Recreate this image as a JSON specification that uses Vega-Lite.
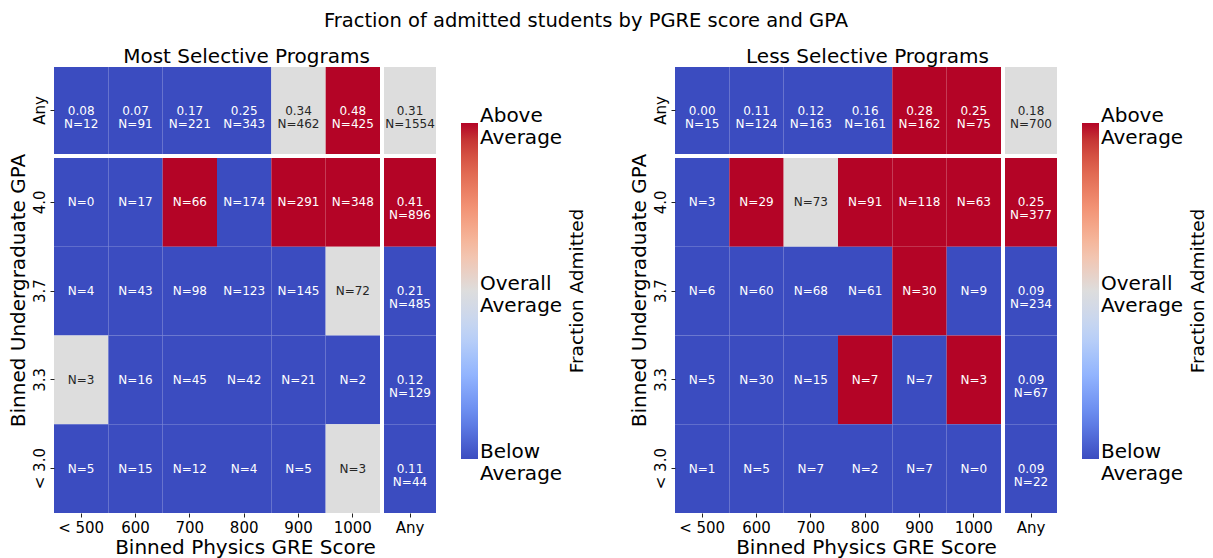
{
  "$schema": "https://vega.github.io/schema/vega-lite/v6.json",
  "padding": {"left": 7, "top": 10, "right": 5, "bottom": 2},
  "title": {"text": "Fraction of admitted students by PGRE score and GPA", "fontSize": 19.5, "fontWeight": "normal", "color": "#000", "anchor": "middle", "offset": 16, "dx": -22},
  "datasets": {
    "cells": [
      {"prog": "Most", "gre": "< 500", "gpa": "Any", "level": -1, "label": "0.08\nN=12"},
      {"prog": "Most", "gre": "600", "gpa": "Any", "level": -1, "label": "0.07\nN=91"},
      {"prog": "Most", "gre": "700", "gpa": "Any", "level": -1, "label": "0.17\nN=221"},
      {"prog": "Most", "gre": "800", "gpa": "Any", "level": -1, "label": "0.25\nN=343"},
      {"prog": "Most", "gre": "900", "gpa": "Any", "level": 0, "label": "0.34\nN=462"},
      {"prog": "Most", "gre": "1000", "gpa": "Any", "level": 1, "label": "0.48\nN=425"},
      {"prog": "Most", "gre": "Any", "gpa": "Any", "level": 0, "label": "0.31\nN=1554"},
      {"prog": "Most", "gre": "< 500", "gpa": "4.0", "level": -1, "label": "N=0"},
      {"prog": "Most", "gre": "600", "gpa": "4.0", "level": -1, "label": "N=17"},
      {"prog": "Most", "gre": "700", "gpa": "4.0", "level": 1, "label": "N=66"},
      {"prog": "Most", "gre": "800", "gpa": "4.0", "level": -1, "label": "N=174"},
      {"prog": "Most", "gre": "900", "gpa": "4.0", "level": 1, "label": "N=291"},
      {"prog": "Most", "gre": "1000", "gpa": "4.0", "level": 1, "label": "N=348"},
      {"prog": "Most", "gre": "Any", "gpa": "4.0", "level": 1, "label": "0.41\nN=896"},
      {"prog": "Most", "gre": "< 500", "gpa": "3.7", "level": -1, "label": "N=4"},
      {"prog": "Most", "gre": "600", "gpa": "3.7", "level": -1, "label": "N=43"},
      {"prog": "Most", "gre": "700", "gpa": "3.7", "level": -1, "label": "N=98"},
      {"prog": "Most", "gre": "800", "gpa": "3.7", "level": -1, "label": "N=123"},
      {"prog": "Most", "gre": "900", "gpa": "3.7", "level": -1, "label": "N=145"},
      {"prog": "Most", "gre": "1000", "gpa": "3.7", "level": 0, "label": "N=72"},
      {"prog": "Most", "gre": "Any", "gpa": "3.7", "level": -1, "label": "0.21\nN=485"},
      {"prog": "Most", "gre": "< 500", "gpa": "3.3", "level": 0, "label": "N=3"},
      {"prog": "Most", "gre": "600", "gpa": "3.3", "level": -1, "label": "N=16"},
      {"prog": "Most", "gre": "700", "gpa": "3.3", "level": -1, "label": "N=45"},
      {"prog": "Most", "gre": "800", "gpa": "3.3", "level": -1, "label": "N=42"},
      {"prog": "Most", "gre": "900", "gpa": "3.3", "level": -1, "label": "N=21"},
      {"prog": "Most", "gre": "1000", "gpa": "3.3", "level": -1, "label": "N=2"},
      {"prog": "Most", "gre": "Any", "gpa": "3.3", "level": -1, "label": "0.12\nN=129"},
      {"prog": "Most", "gre": "< 500", "gpa": "< 3.0", "level": -1, "label": "N=5"},
      {"prog": "Most", "gre": "600", "gpa": "< 3.0", "level": -1, "label": "N=15"},
      {"prog": "Most", "gre": "700", "gpa": "< 3.0", "level": -1, "label": "N=12"},
      {"prog": "Most", "gre": "800", "gpa": "< 3.0", "level": -1, "label": "N=4"},
      {"prog": "Most", "gre": "900", "gpa": "< 3.0", "level": -1, "label": "N=5"},
      {"prog": "Most", "gre": "1000", "gpa": "< 3.0", "level": 0, "label": "N=3"},
      {"prog": "Most", "gre": "Any", "gpa": "< 3.0", "level": -1, "label": "0.11\nN=44"},
      {"prog": "Less", "gre": "< 500", "gpa": "Any", "level": -1, "label": "0.00\nN=15"},
      {"prog": "Less", "gre": "600", "gpa": "Any", "level": -1, "label": "0.11\nN=124"},
      {"prog": "Less", "gre": "700", "gpa": "Any", "level": -1, "label": "0.12\nN=163"},
      {"prog": "Less", "gre": "800", "gpa": "Any", "level": -1, "label": "0.16\nN=161"},
      {"prog": "Less", "gre": "900", "gpa": "Any", "level": 1, "label": "0.28\nN=162"},
      {"prog": "Less", "gre": "1000", "gpa": "Any", "level": 1, "label": "0.25\nN=75"},
      {"prog": "Less", "gre": "Any", "gpa": "Any", "level": 0, "label": "0.18\nN=700"},
      {"prog": "Less", "gre": "< 500", "gpa": "4.0", "level": -1, "label": "N=3"},
      {"prog": "Less", "gre": "600", "gpa": "4.0", "level": 1, "label": "N=29"},
      {"prog": "Less", "gre": "700", "gpa": "4.0", "level": 0, "label": "N=73"},
      {"prog": "Less", "gre": "800", "gpa": "4.0", "level": 1, "label": "N=91"},
      {"prog": "Less", "gre": "900", "gpa": "4.0", "level": 1, "label": "N=118"},
      {"prog": "Less", "gre": "1000", "gpa": "4.0", "level": 1, "label": "N=63"},
      {"prog": "Less", "gre": "Any", "gpa": "4.0", "level": 1, "label": "0.25\nN=377"},
      {"prog": "Less", "gre": "< 500", "gpa": "3.7", "level": -1, "label": "N=6"},
      {"prog": "Less", "gre": "600", "gpa": "3.7", "level": -1, "label": "N=60"},
      {"prog": "Less", "gre": "700", "gpa": "3.7", "level": -1, "label": "N=68"},
      {"prog": "Less", "gre": "800", "gpa": "3.7", "level": -1, "label": "N=61"},
      {"prog": "Less", "gre": "900", "gpa": "3.7", "level": 1, "label": "N=30"},
      {"prog": "Less", "gre": "1000", "gpa": "3.7", "level": -1, "label": "N=9"},
      {"prog": "Less", "gre": "Any", "gpa": "3.7", "level": -1, "label": "0.09\nN=234"},
      {"prog": "Less", "gre": "< 500", "gpa": "3.3", "level": -1, "label": "N=5"},
      {"prog": "Less", "gre": "600", "gpa": "3.3", "level": -1, "label": "N=30"},
      {"prog": "Less", "gre": "700", "gpa": "3.3", "level": -1, "label": "N=15"},
      {"prog": "Less", "gre": "800", "gpa": "3.3", "level": 1, "label": "N=7"},
      {"prog": "Less", "gre": "900", "gpa": "3.3", "level": -1, "label": "N=7"},
      {"prog": "Less", "gre": "1000", "gpa": "3.3", "level": 1, "label": "N=3"},
      {"prog": "Less", "gre": "Any", "gpa": "3.3", "level": -1, "label": "0.09\nN=67"},
      {"prog": "Less", "gre": "< 500", "gpa": "< 3.0", "level": -1, "label": "N=1"},
      {"prog": "Less", "gre": "600", "gpa": "< 3.0", "level": -1, "label": "N=5"},
      {"prog": "Less", "gre": "700", "gpa": "< 3.0", "level": -1, "label": "N=7"},
      {"prog": "Less", "gre": "800", "gpa": "< 3.0", "level": -1, "label": "N=2"},
      {"prog": "Less", "gre": "900", "gpa": "< 3.0", "level": -1, "label": "N=7"},
      {"prog": "Less", "gre": "1000", "gpa": "< 3.0", "level": -1, "label": "N=0"},
      {"prog": "Less", "gre": "Any", "gpa": "< 3.0", "level": -1, "label": "0.09\nN=22"}
    ]
  },
  "data": {"name": "cells"},
  "config": {
    "font": "DejaVu Sans",
    "view": {"stroke": null},
    "scale": {"bandPaddingInner": 0, "bandPaddingOuter": 0},
    "axis": {"domain": false, "grid": false, "ticks": true, "tickSize": 4, "tickColor": "#222222", "tickWidth": 1, "labelFontSize": 15, "labelColor": "#000000", "labelPadding": 3, "titleFontSize": 20, "titleFontWeight": "normal", "titleColor": "#000000"},
    "axisX": {"labelAngle": 0, "titlePadding": 2},
    "axisY": {"labelAngle": -90, "titlePadding": 4},
    "legend": {"orient": "none", "legendX": 407, "legendY": 56, "padding": 0, "gradientLength": 336, "gradientThickness": 17, "gradientStrokeWidth": 0, "labelFontSize": 20, "labelColor": "#000000", "labelOverlap": false, "labelOffset": 6, "titleFontSize": 18.5, "titleFontWeight": "normal", "titleColor": "#000000", "titleOrient": "right", "titleAnchor": "middle", "titlePadding": 1},
    "title": {"fontWeight": "normal", "color": "#000000"},
    "text": {"lineBreak": "\n", "fontSize": 12, "lineHeight": 13}
  },
  "spacing": 41,
  "resolve": {"scale": {"color": "independent"}, "legend": {"color": "independent"}},
  "hconcat": [
    {
      "title": {"text": "Most Selective Programs", "fontSize": 20, "anchor": "middle", "offset": 0, "dx": -51},
      "columns": 2,
      "bounds": "flush",
      "spacing": {"row": 4, "column": 4},
      "concat": [
        {
          "width": 326, "height": 87,
          "transform": [{"filter": "datum.prog == 'Most' && datum.gpa == 'Any' && datum.gre != 'Any'"}],
          "encoding": {
            "x": {"field": "gre", "type": "nominal", "sort": ["< 500", "600", "700", "800", "900", "1000"], "axis": null},
            "y": {"field": "gpa", "type": "nominal", "axis": {"title": null}}
          },
          "layer": [
            {"mark": "rect", "encoding": {"color": {"field": "level", "type": "quantitative", "scale": {"domain": [-1, -0.75, -0.5, -0.25, 0, 0.25, 0.5, 0.75, 1], "range": ["#3b4cc0", "#6687ed", "#92b4fe", "#bfd3f6", "#dddddd", "#f6bfa6", "#f29274", "#dd5f4b", "#b40426"]}, "legend": {"title": "Fraction Admitted", "values": [1, 0, -1], "labelExpr": "datum.value > 0.5 ? ['Above', 'Average'] : (datum.value < -0.5 ? ['Below', 'Average'] : ['Overall', 'Average'])", "encode": {"labels": {"update": {"lineHeight": {"value": 22}, "baseline": {"value": "middle"}, "dy": {"value": -7.5}}}, "title": {"update": {"angle": {"value": 270}, "baseline": {"value": "top"}, "dy": {"value": 5}}}}}}}},
            {"mark": "text", "encoding": {"text": {"field": "label"}, "color": {"condition": {"test": "datum.level == 0", "value": "#262626"}, "value": "#ffffff"}}}
          ]
        },
        {
          "width": 52, "height": 87,
          "transform": [{"filter": "datum.prog == 'Most' && datum.gpa == 'Any' && datum.gre == 'Any'"}],
          "encoding": {
            "x": {"field": "gre", "type": "nominal", "axis": null},
            "y": {"field": "gpa", "type": "nominal", "axis": null}
          },
          "layer": [
            {"mark": "rect", "encoding": {"color": {"field": "level", "type": "quantitative", "scale": {"domain": [-1, -0.75, -0.5, -0.25, 0, 0.25, 0.5, 0.75, 1], "range": ["#3b4cc0", "#6687ed", "#92b4fe", "#bfd3f6", "#dddddd", "#f6bfa6", "#f29274", "#dd5f4b", "#b40426"]}, "legend": {"title": "Fraction Admitted", "values": [1, 0, -1], "labelExpr": "datum.value > 0.5 ? ['Above', 'Average'] : (datum.value < -0.5 ? ['Below', 'Average'] : ['Overall', 'Average'])", "encode": {"labels": {"update": {"lineHeight": {"value": 22}, "baseline": {"value": "middle"}, "dy": {"value": -7.5}}}, "title": {"update": {"angle": {"value": 270}, "baseline": {"value": "top"}, "dy": {"value": 5}}}}}}}},
            {"mark": "text", "encoding": {"text": {"field": "label"}, "color": {"condition": {"test": "datum.level == 0", "value": "#262626"}, "value": "#ffffff"}}}
          ]
        },
        {
          "width": 326, "height": 355,
          "transform": [{"filter": "datum.prog == 'Most' && datum.gpa != 'Any' && datum.gre != 'Any'"}],
          "encoding": {
            "x": {"field": "gre", "type": "nominal", "sort": ["< 500", "600", "700", "800", "900", "1000"], "axis": {"title": "Binned Physics GRE Score", "titleX": 191}},
            "y": {"field": "gpa", "type": "nominal", "sort": ["4.0", "3.7", "3.3", "< 3.0"], "axis": {"title": "Binned Undergraduate GPA", "titleY": 132}}
          },
          "layer": [
            {"mark": "rect", "encoding": {"color": {"field": "level", "type": "quantitative", "scale": {"domain": [-1, -0.75, -0.5, -0.25, 0, 0.25, 0.5, 0.75, 1], "range": ["#3b4cc0", "#6687ed", "#92b4fe", "#bfd3f6", "#dddddd", "#f6bfa6", "#f29274", "#dd5f4b", "#b40426"]}, "legend": {"title": "Fraction Admitted", "values": [1, 0, -1], "labelExpr": "datum.value > 0.5 ? ['Above', 'Average'] : (datum.value < -0.5 ? ['Below', 'Average'] : ['Overall', 'Average'])", "encode": {"labels": {"update": {"lineHeight": {"value": 22}, "baseline": {"value": "middle"}, "dy": {"value": -7.5}}}, "title": {"update": {"angle": {"value": 270}, "baseline": {"value": "top"}, "dy": {"value": 5}}}}}}}},
            {"mark": "text", "encoding": {"text": {"field": "label"}, "color": {"condition": {"test": "datum.level == 0", "value": "#262626"}, "value": "#ffffff"}}}
          ]
        },
        {
          "width": 52, "height": 355,
          "transform": [{"filter": "datum.prog == 'Most' && datum.gpa != 'Any' && datum.gre == 'Any'"}],
          "encoding": {
            "x": {"field": "gre", "type": "nominal", "axis": {"title": null}},
            "y": {"field": "gpa", "type": "nominal", "sort": ["4.0", "3.7", "3.3", "< 3.0"], "axis": null}
          },
          "layer": [
            {"mark": "rect", "encoding": {"color": {"field": "level", "type": "quantitative", "scale": {"domain": [-1, -0.75, -0.5, -0.25, 0, 0.25, 0.5, 0.75, 1], "range": ["#3b4cc0", "#6687ed", "#92b4fe", "#bfd3f6", "#dddddd", "#f6bfa6", "#f29274", "#dd5f4b", "#b40426"]}, "legend": {"title": "Fraction Admitted", "values": [1, 0, -1], "labelExpr": "datum.value > 0.5 ? ['Above', 'Average'] : (datum.value < -0.5 ? ['Below', 'Average'] : ['Overall', 'Average'])", "encode": {"labels": {"update": {"lineHeight": {"value": 22}, "baseline": {"value": "middle"}, "dy": {"value": -7.5}}}, "title": {"update": {"angle": {"value": 270}, "baseline": {"value": "top"}, "dy": {"value": 5}}}}}}}},
            {"mark": "text", "encoding": {"text": {"field": "label"}, "color": {"condition": {"test": "datum.level == 0", "value": "#262626"}, "value": "#ffffff"}}}
          ]
        }
      ]
    },
    {
      "title": {"text": "Less Selective Programs", "fontSize": 20, "anchor": "middle", "offset": 0, "dx": -51},
      "columns": 2,
      "bounds": "flush",
      "spacing": {"row": 4, "column": 4},
      "concat": [
        {
          "width": 326, "height": 87,
          "transform": [{"filter": "datum.prog == 'Less' && datum.gpa == 'Any' && datum.gre != 'Any'"}],
          "encoding": {
            "x": {"field": "gre", "type": "nominal", "sort": ["< 500", "600", "700", "800", "900", "1000"], "axis": null},
            "y": {"field": "gpa", "type": "nominal", "axis": {"title": null}}
          },
          "layer": [
            {"mark": "rect", "encoding": {"color": {"field": "level", "type": "quantitative", "scale": {"domain": [-1, -0.75, -0.5, -0.25, 0, 0.25, 0.5, 0.75, 1], "range": ["#3b4cc0", "#6687ed", "#92b4fe", "#bfd3f6", "#dddddd", "#f6bfa6", "#f29274", "#dd5f4b", "#b40426"]}, "legend": {"title": "Fraction Admitted", "values": [1, 0, -1], "labelExpr": "datum.value > 0.5 ? ['Above', 'Average'] : (datum.value < -0.5 ? ['Below', 'Average'] : ['Overall', 'Average'])", "encode": {"labels": {"update": {"lineHeight": {"value": 22}, "baseline": {"value": "middle"}, "dy": {"value": -7.5}}}, "title": {"update": {"angle": {"value": 270}, "baseline": {"value": "top"}, "dy": {"value": 5}}}}}}}},
            {"mark": "text", "encoding": {"text": {"field": "label"}, "color": {"condition": {"test": "datum.level == 0", "value": "#262626"}, "value": "#ffffff"}}}
          ]
        },
        {
          "width": 52, "height": 87,
          "transform": [{"filter": "datum.prog == 'Less' && datum.gpa == 'Any' && datum.gre == 'Any'"}],
          "encoding": {
            "x": {"field": "gre", "type": "nominal", "axis": null},
            "y": {"field": "gpa", "type": "nominal", "axis": null}
          },
          "layer": [
            {"mark": "rect", "encoding": {"color": {"field": "level", "type": "quantitative", "scale": {"domain": [-1, -0.75, -0.5, -0.25, 0, 0.25, 0.5, 0.75, 1], "range": ["#3b4cc0", "#6687ed", "#92b4fe", "#bfd3f6", "#dddddd", "#f6bfa6", "#f29274", "#dd5f4b", "#b40426"]}, "legend": {"title": "Fraction Admitted", "values": [1, 0, -1], "labelExpr": "datum.value > 0.5 ? ['Above', 'Average'] : (datum.value < -0.5 ? ['Below', 'Average'] : ['Overall', 'Average'])", "encode": {"labels": {"update": {"lineHeight": {"value": 22}, "baseline": {"value": "middle"}, "dy": {"value": -7.5}}}, "title": {"update": {"angle": {"value": 270}, "baseline": {"value": "top"}, "dy": {"value": 5}}}}}}}},
            {"mark": "text", "encoding": {"text": {"field": "label"}, "color": {"condition": {"test": "datum.level == 0", "value": "#262626"}, "value": "#ffffff"}}}
          ]
        },
        {
          "width": 326, "height": 355,
          "transform": [{"filter": "datum.prog == 'Less' && datum.gpa != 'Any' && datum.gre != 'Any'"}],
          "encoding": {
            "x": {"field": "gre", "type": "nominal", "sort": ["< 500", "600", "700", "800", "900", "1000"], "axis": {"title": "Binned Physics GRE Score", "titleX": 191}},
            "y": {"field": "gpa", "type": "nominal", "sort": ["4.0", "3.7", "3.3", "< 3.0"], "axis": {"title": "Binned Undergraduate GPA", "titleY": 132}}
          },
          "layer": [
            {"mark": "rect", "encoding": {"color": {"field": "level", "type": "quantitative", "scale": {"domain": [-1, -0.75, -0.5, -0.25, 0, 0.25, 0.5, 0.75, 1], "range": ["#3b4cc0", "#6687ed", "#92b4fe", "#bfd3f6", "#dddddd", "#f6bfa6", "#f29274", "#dd5f4b", "#b40426"]}, "legend": {"title": "Fraction Admitted", "values": [1, 0, -1], "labelExpr": "datum.value > 0.5 ? ['Above', 'Average'] : (datum.value < -0.5 ? ['Below', 'Average'] : ['Overall', 'Average'])", "encode": {"labels": {"update": {"lineHeight": {"value": 22}, "baseline": {"value": "middle"}, "dy": {"value": -7.5}}}, "title": {"update": {"angle": {"value": 270}, "baseline": {"value": "top"}, "dy": {"value": 5}}}}}}}},
            {"mark": "text", "encoding": {"text": {"field": "label"}, "color": {"condition": {"test": "datum.level == 0", "value": "#262626"}, "value": "#ffffff"}}}
          ]
        },
        {
          "width": 52, "height": 355,
          "transform": [{"filter": "datum.prog == 'Less' && datum.gpa != 'Any' && datum.gre == 'Any'"}],
          "encoding": {
            "x": {"field": "gre", "type": "nominal", "axis": {"title": null}},
            "y": {"field": "gpa", "type": "nominal", "sort": ["4.0", "3.7", "3.3", "< 3.0"], "axis": null}
          },
          "layer": [
            {"mark": "rect", "encoding": {"color": {"field": "level", "type": "quantitative", "scale": {"domain": [-1, -0.75, -0.5, -0.25, 0, 0.25, 0.5, 0.75, 1], "range": ["#3b4cc0", "#6687ed", "#92b4fe", "#bfd3f6", "#dddddd", "#f6bfa6", "#f29274", "#dd5f4b", "#b40426"]}, "legend": {"title": "Fraction Admitted", "values": [1, 0, -1], "labelExpr": "datum.value > 0.5 ? ['Above', 'Average'] : (datum.value < -0.5 ? ['Below', 'Average'] : ['Overall', 'Average'])", "encode": {"labels": {"update": {"lineHeight": {"value": 22}, "baseline": {"value": "middle"}, "dy": {"value": -7.5}}}, "title": {"update": {"angle": {"value": 270}, "baseline": {"value": "top"}, "dy": {"value": 5}}}}}}}},
            {"mark": "text", "encoding": {"text": {"field": "label"}, "color": {"condition": {"test": "datum.level == 0", "value": "#262626"}, "value": "#ffffff"}}}
          ]
        }
      ]
    }
  ]
}
